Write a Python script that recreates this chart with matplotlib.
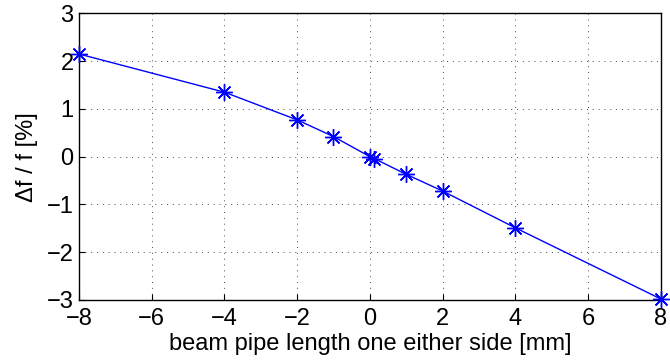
import matplotlib.pyplot as plt

# beam pipe length change [mm] vs frequency shift [%]
length_mm = [-8, -4, -2, -1, 0, 0.12, 1, 2, 4, 8]
df_pct = [2.15, 1.35, 0.77, 0.42, 0.0, -0.04, -0.37, -0.72, -1.49, -2.98]

x_ticks = [-8, -6, -4, -2, 0, 2, 4, 6, 8]
y_ticks = [-3, -2, -1, 0, 1, 2, 3]

plt.rcParams['font.family'] = ['Liberation Sans', 'DejaVu Sans']
plt.rcParams['axes.unicode_minus'] = True

fig = plt.figure(figsize=(6.7, 3.63), dpi=100)
ax = fig.add_axes([0.118, 0.174, 0.868, 0.789])

ax.plot(length_mm, df_pct, color='#0000ff', marker=(8, 2, 0), markersize=12,
        markeredgewidth=1, linewidth=1, clip_on=False, zorder=3)

ax.set_xlim(-8, 8)
ax.set_ylim(-3, 3)
ax.set_xticks(x_ticks)
ax.set_yticks(y_ticks)
ax.grid(True, color='black', linestyle=(0, (1, 5)), linewidth=0.7, alpha=0.7)
ax.tick_params(direction='in', labelsize=17, length=4)
ax.tick_params(axis='x', pad=6)
ax.tick_params(axis='y', pad=4)
for s in ax.spines.values():
    s.set_linewidth(1)

ax.set_xlabel('beam pipe length one either side [mm]', fontsize=17, labelpad=2)
ax.set_ylabel('\u0394f / f [%]', fontsize=17, labelpad=6)

fig.savefig('out.png', dpi=100)
